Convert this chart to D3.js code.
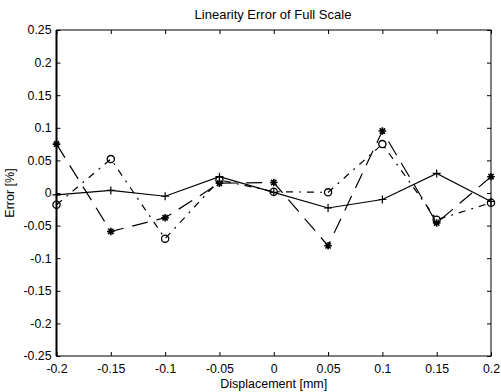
<!DOCTYPE html>
<html><head><meta charset="utf-8">
<script src="https://cdn.jsdelivr.net/npm/d3@7"></script>
<style>
body{margin:0;background:#fff;}
text{font-family:"Liberation Sans",Arial,sans-serif;fill:#000;}
</style></head>
<body><svg id="c" width="501" height="392"></svg>
<script>
const xValues = [-0.2,-0.15,-0.1,-0.05,0,0.05,0.1,0.15,0.2];
const solidPlus = [-0.003,0.004,-0.005,0.025,0.001,-0.023,-0.010,0.030,-0.013];
const dashDotCircle = [-0.018,0.052,-0.070,0.020,0.002,0.001,0.075,-0.041,-0.015];
const dashStar = [0.075,-0.059,-0.038,0.015,0.016,-0.081,0.095,-0.046,0.025];
const xTicks = [-0.2,-0.15,-0.1,-0.05,0,0.05,0.1,0.15,0.2];
const yTicks = [-0.25,-0.2,-0.15,-0.1,-0.05,0,0.05,0.1,0.15,0.2,0.25];
const titleText = "Linearity Error of Full Scale";
const xLabel = "Displacement [mm]";
const yLabel = "Error [%]";

const svg = d3.select("#c");
const L=56.5,R=491,T=30,B=356;
const x = d3.scaleLinear().domain([-0.2,0.2]).range([L,R]);
const y = d3.scaleLinear().domain([-0.25,0.25]).range([B,T]);
const fmt = d => d===0 ? "0" : String(d);
const FS = 12.3;

svg.append("rect").attr("x",L).attr("y",T).attr("width",R-L).attr("height",B-T)
  .attr("fill","none").attr("stroke","#000").attr("stroke-width",1);
svg.append("line").attr("x1",L).attr("x2",L).attr("y1",T).attr("y2",B).attr("stroke","#000").attr("stroke-width",2);

const tl=4;
svg.append("g").attr("transform",`translate(0,${B})`)
  .call(d3.axisBottom(x).tickValues(xTicks).tickFormat(fmt).tickSizeInner(-tl).tickSizeOuter(0).tickPadding(8))
  .call(g=>g.select(".domain").remove())
  .call(g=>g.selectAll("text").attr("font-size",FS).attr("font-family","Liberation Sans, Arial, sans-serif"));
svg.append("g").attr("transform",`translate(0,${T})`)
  .call(d3.axisTop(x).tickValues(xTicks).tickFormat("").tickSizeInner(-tl).tickSizeOuter(0))
  .call(g=>g.select(".domain").remove());
svg.append("g").attr("transform",`translate(${L},0)`)
  .call(d3.axisLeft(y).tickValues(yTicks).tickFormat(fmt).tickSizeInner(-tl).tickSizeOuter(0).tickPadding(5))
  .call(g=>g.select(".domain").remove())
  .call(g=>g.selectAll("text").attr("font-size",FS).attr("font-family","Liberation Sans, Arial, sans-serif"));
svg.append("g").attr("transform",`translate(${R},0)`)
  .call(d3.axisRight(y).tickValues(yTicks).tickFormat("").tickSizeInner(-tl).tickSizeOuter(0))
  .call(g=>g.select(".domain").remove());

const line = d3.line().x((d,i)=>x(xValues[i])).y(d=>y(d));
function series(vals, dash){
  svg.append("path").datum(vals).attr("d",line).attr("fill","none")
    .attr("stroke","#000").attr("stroke-width",1.2).attr("stroke-dasharray",dash);
}
series(dashStar,"16,9");
series(dashDotCircle,"7,6,2,6");
series(solidPlus,null);

const g = svg.append("g");
solidPlus.forEach((v,i)=>{
  const cx=x(xValues[i]), cy=y(v);
  g.append("path").attr("d",`M${cx-4},${cy}H${cx+4}M${cx},${cy-4}V${cy+4}`).attr("stroke","#000").attr("stroke-width",1.2);
});
dashDotCircle.forEach((v,i)=>{
  g.append("circle").attr("cx",x(xValues[i])).attr("cy",y(v)).attr("r",3.6)
    .attr("fill","none").attr("stroke","#000").attr("stroke-width",1.3);
});
dashStar.forEach((v,i)=>{
  const cx=x(xValues[i]), cy=y(v), s=3.8;
  g.append("path").attr("d",`M${cx-s},${cy}H${cx+s}M${cx},${cy-s}V${cy+s}M${cx-s*0.7},${cy-s*0.7}L${cx+s*0.7},${cy+s*0.7}M${cx-s*0.7},${cy+s*0.7}L${cx+s*0.7},${cy-s*0.7}`)
    .attr("stroke","#000").attr("stroke-width",1.6);
});

svg.append("text").attr("x",273).attr("y",19).attr("text-anchor","middle").attr("font-size",13).text(titleText);
svg.append("text").attr("x",(L+R)/2).attr("y",388).attr("text-anchor","middle").attr("font-size",12.5).text(xLabel);
svg.append("text").attr("transform",`translate(14,${(T+B)/2}) rotate(-90)`).attr("text-anchor","middle").attr("font-size",12.5).text(yLabel);
</script></body></html>
